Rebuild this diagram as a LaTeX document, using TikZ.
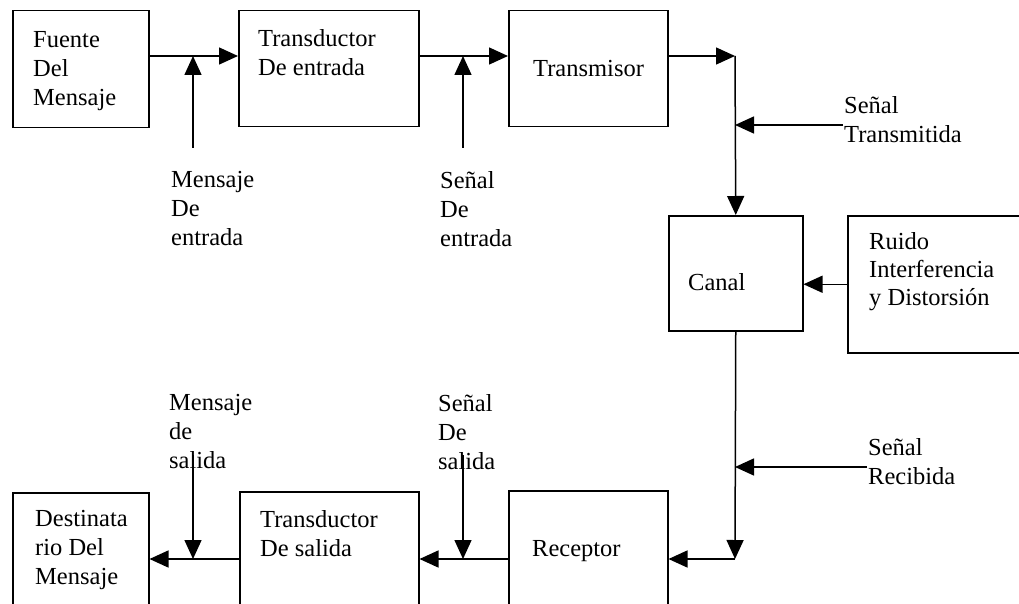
\documentclass[tikz,border=0pt]{standalone}
\usepackage{fontspec}
\setmainfont{Liberation Serif}
\usetikzlibrary{arrows.meta}
\tikzset{
  box/.style={draw, line width=1.5pt, rectangle, inner sep=0pt, anchor=north west},
  txt/.style={anchor=north west, inner sep=0pt, align=left, font=\fontsize{24.5}{29}\selectfont},
  arr/.style={line width=1.5pt, -{Triangle[length=19pt,width=17pt]}}
}
\begin{document}
\begin{tikzpicture}[x=1pt,y=-1pt]
\useasboundingbox (0,0) rectangle (1019,604);
\clip (0,0) rectangle (1019,604);
% boxes
\node[box, minimum width=136pt, minimum height=117pt] (fuente) at (12,10) {};
\node[box, minimum width=180pt, minimum height=116pt] (tde) at (238,10) {};
\node[box, minimum width=159pt, minimum height=116pt] (tx) at (508,10) {};
\node[box, minimum width=134pt, minimum height=115pt] (canal) at (668,215) {};
\node[box, minimum width=190pt, minimum height=137pt] (ruido) at (847,215) {};
\node[box, minimum width=159pt, minimum height=130pt] (rx) at (508,490) {};
\node[box, minimum width=179pt, minimum height=130pt] (tds) at (239,491) {};
\node[box, minimum width=136pt, minimum height=130pt] (dest) at (12,492) {};
% box texts
\node[txt] (fuentet) at (33,31) {Fuente\\Del\\Mensaje};
\node[txt] (tdet) at (258,29) {Transductor\\De entrada};
\node[txt] (txt1) at (533,60) {Transmisor};
\node[txt] (canalt) at (688,273) {Canal};
\node[txt, font=\fontsize{24.5}{28}\selectfont] (ruidot) at (869,232) {Ruido\\Interferencia\\y Distorsión};
\node[txt] (rxt) at (532,540) {Receptor};
\node[txt] (tdst) at (260,510) {Transductor\\De salida};
\node[txt] (destt) at (35,510) {Destinata\\rio Del\\Mensaje};
% labels
\node[txt] (l1) at (171,171) {Mensaje\\De\\entrada};
\node[txt] (l2) at (440,171) {Señal\\De\\entrada};
\node[txt] (l3) at (844,96) {Señal\\Transmitida};
\node[txt] (l4) at (868,438) {Señal\\Recibida};
\node[txt] (l5) at (169,394) {Mensaje\\de\\salida};
\node[txt] (l6) at (438,394) {Señal\\De\\salida};
% coordinates
\coordinate (rowA) at (0,56);
\coordinate (rowB) at (0,559);
\coordinate (c1) at (735,56);
\coordinate (c2) at (735,559);
\coordinate (s1) at (193,148);
\coordinate (s2) at (463,148);
\coordinate (s3) at (843,125);
\coordinate (s4) at (867,467);
\coordinate (s5) at (193,455);
\coordinate (s6) at (463,455);
% connectors
\draw[arr] (fuente.east |- rowA) -- (tde.west |- rowA);
\draw[arr] (tde.east |- rowA) -- (tx.west |- rowA);
\draw[arr] (tx.east |- rowA) -- (c1);
\draw[arr] (c1) -- (canal.north);
\draw[arr] (s1) -- (s1 |- rowA);
\draw[arr] (s2) -- (s2 |- rowA);
\draw[arr] (s3) -- (c1 |- s3);
\draw[arr] (ruido.west) -- (canal.east |- ruido.west);
\draw[arr] (canal.south) -- (c2);
\draw[arr] (c2) -- (rx.east |- rowB);
\draw[arr] (s4) -- (c2 |- s4);
\draw[arr] (rx.west |- rowB) -- (tds.east |- rowB);
\draw[arr] (tds.west |- rowB) -- (dest.east |- rowB);
\draw[arr] (s5) -- (s5 |- rowB);
\draw[arr] (s6) -- (s6 |- rowB);
\end{tikzpicture}
\end{document}
